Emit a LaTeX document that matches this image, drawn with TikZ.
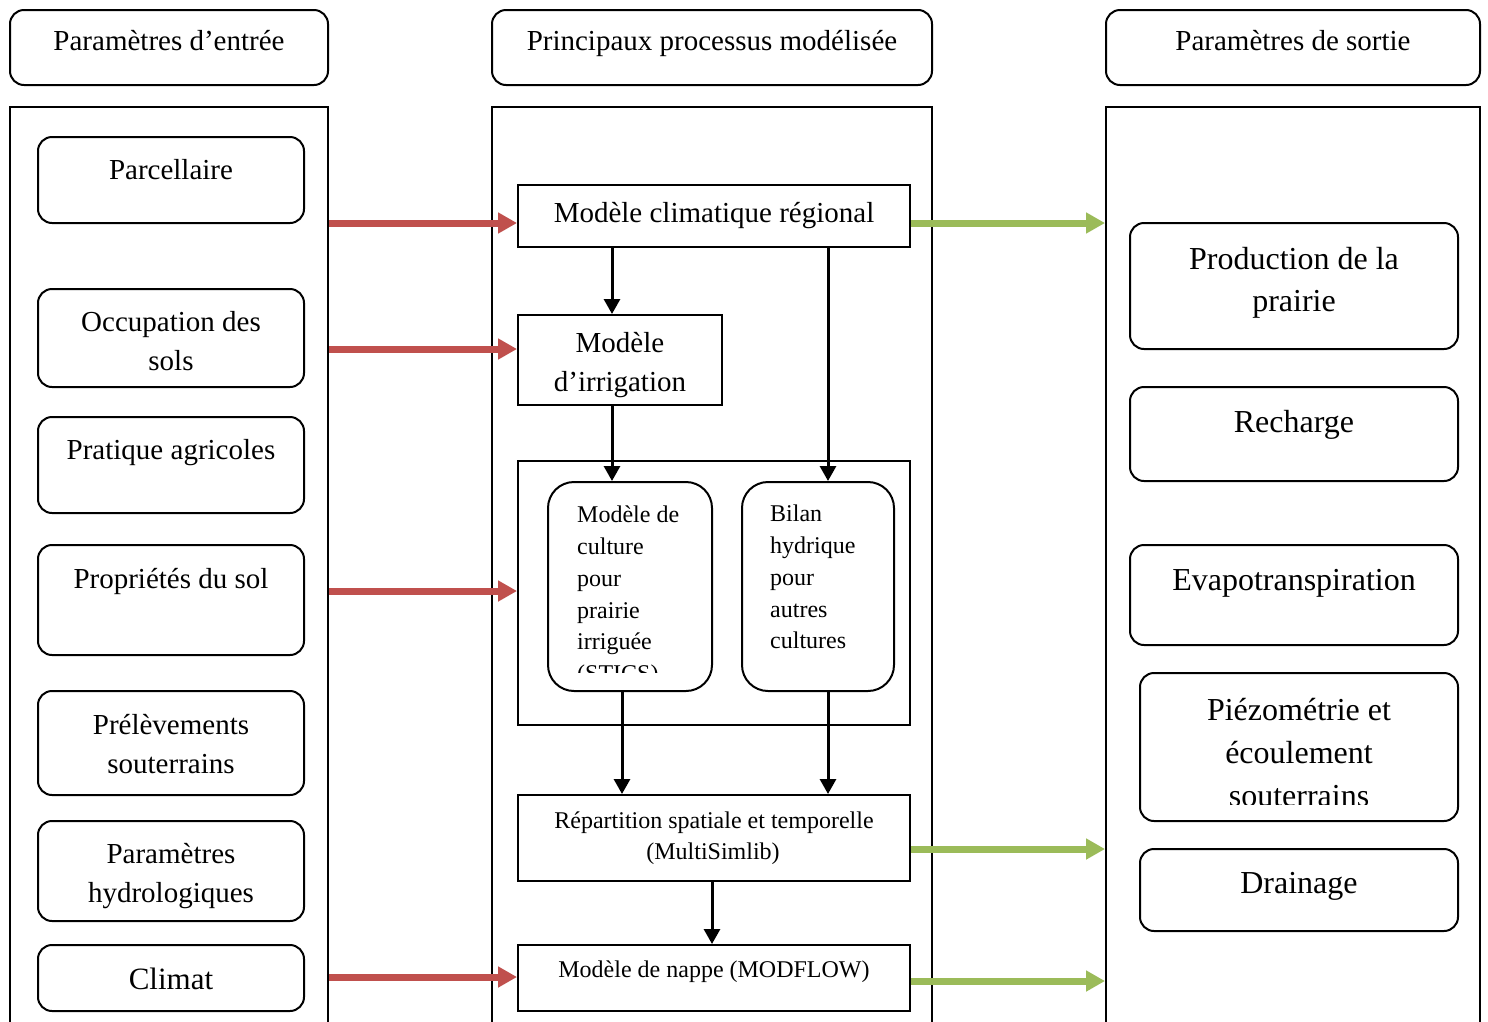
\documentclass[tikz,border=0pt]{standalone}
\usepackage{fontspec}
\setmainfont{Liberation Serif}
\usetikzlibrary{arrows.meta,fit}
\definecolor{redarr}{HTML}{C0504D}
\definecolor{greenarr}{HTML}{9BBB59}
\begin{document}
\begin{tikzpicture}[x=1pt,y=-1pt,
  rbox/.style={draw, line width=2pt, rounded corners=14pt, inner sep=0pt},
  bigr/.style={draw, line width=2pt, rounded corners=26pt, inner sep=0pt},
  sqbox/.style={draw, line width=2pt, inner sep=0pt},
  txt/.style={anchor=base, inner sep=0pt, font=\fontsize{29}{35}\selectfont},
  clt/.style={anchor=base, inner sep=0pt, font=\fontsize{31}{37}\selectfont},
  bigt/.style={anchor=base, inner sep=0pt, font=\fontsize{32}{38}\selectfont},
  smt/.style={anchor=base, inner sep=0pt, font=\fontsize{24}{28}\selectfont},
  smtl/.style={anchor=base west, inner sep=0pt, font=\fontsize{24}{28}\selectfont},
  redar/.style={draw=redarr, line width=7pt, -{Triangle[length=19pt,width=20pt]}},
  grnar/.style={draw=greenarr, line width=7pt, -{Triangle[length=19pt,width=20pt]}},
  blkar/.style={draw=black, line width=3pt, -{Triangle[length=15pt,width=16pt]}}]
\useasboundingbox (0,0) rectangle (1488,1021);
\fill[white] (0,0) rectangle (1488,1021);

% headers
\node[rbox, fit={(10,10) (328,85)}] (hL) {};
\node[rbox, fit={(492,10) (932,85)}] (hM) {};
\node[rbox, fit={(1106,10) (1480,85)}] (hR) {};
\node[txt] (thL) at (169,50) {Paramètres d’entrée};
\node[txt] (thM) at (712,50) {Principaux processus modélisée};
\node[txt] (thR) at (1293,50) {Paramètres de sortie};

% columns
\node[sqbox, fit={(10,107) (328,1050)}] (colL) {};
\node[sqbox, fit={(492,107) (932,1050)}] (colM) {};
\node[sqbox, fit={(1106,107) (1480,1050)}] (colR) {};

% left inputs
\node[rbox, fit={(38,137) (304,223)}] (parc) {};
\node[txt] (tparc) at (171,179) {Parcellaire};
\node[rbox, fit={(38,289) (304,387)}] (occ) {};
\node[txt] (tocc1) at (171,331) {Occupation des};
\node[txt] (tocc2) at (171,370) {sols};
\node[rbox, fit={(38,417) (304,513)}] (prat) {};
\node[txt] (tprat) at (171,459) {Pratique agricoles};
\node[rbox, fit={(38,545) (304,655)}] (prop) {};
\node[txt] (tprop) at (171,588) {Propriétés du sol};
\node[rbox, fit={(38,691) (304,795)}] (prel) {};
\node[txt] (tprel1) at (171,734) {Prélèvements};
\node[txt] (tprel2) at (171,773) {souterrains};
\node[rbox, fit={(38,821) (304,921)}] (para) {};
\node[txt] (tpara1) at (171,863) {Paramètres};
\node[txt] (tpara2) at (171,902) {hydrologiques};
\node[rbox, fit={(38,945) (304,1011)}] (clim) {};
\node[clt] (tclim) at (171,989) {Climat};

% middle processes
\node[sqbox, fit={(518,185) (910,247)}] (mcr) {};
\node[txt] (tmcr) at (714,222) {Modèle climatique régional};
\node[sqbox, fit={(518,315) (722,405)}] (irr) {};
\node[txt] (tirr1) at (620,352) {Modèle};
\node[txt] (tirr2) at (620,391) {d’irrigation};
\node[sqbox, fit={(518,461) (910,725)}] (grp) {};
\node[bigr, fit={(548,482) (712,691)}] (stics) {};
\begin{scope}
\clip (548,482) rectangle (712,672);
\node[smtl] (ts1) at (577,522) {Modèle de};
\node[smtl] (ts2) at (577,554) {culture};
\node[smtl] (ts3) at (577,586) {pour};
\node[smtl] (ts4) at (577,618) {prairie};
\node[smtl] (ts5) at (577,649) {irriguée};
\node[smtl] (ts6) at (577,681) {(STICS)};
\end{scope}
\node[bigr, fit={(742,482) (894,691)}] (bilan) {};
\node[smtl] (tb1) at (770,521) {Bilan};
\node[smtl] (tb2) at (770,553) {hydrique};
\node[smtl] (tb3) at (770,585) {pour};
\node[smtl] (tb4) at (770,617) {autres};
\node[smtl] (tb5) at (770,648) {cultures};
\node[sqbox, fit={(518,795) (910,881)}] (rep) {};
\node[smt] (trep1) at (714,828) {Répartition spatiale et temporelle};
\node[smt] (trep2) at (713,859) {(MultiSimlib)};
\node[sqbox, fit={(518,945) (910,1011)}] (nap) {};
\node[smt] (tnap) at (714,977) {Modèle de nappe (MODFLOW)};

% right outputs
\node[rbox, fit={(1130,223) (1458,349)}] (prod) {};
\node[bigt] (tprod1) at (1294,269) {Production de la};
\node[bigt] (tprod2) at (1294,311) {prairie};
\node[rbox, fit={(1130,387) (1458,481)}] (rech) {};
\node[bigt] (trech) at (1294,432) {Recharge};
\node[rbox, fit={(1130,545) (1458,645)}] (evap) {};
\node[bigt] (tevap) at (1294,590) {Evapotranspiration};
\node[rbox, fit={(1140,673) (1458,821)}] (piez) {};
\begin{scope}
\clip (1140,673) rectangle (1458,804);
\node[bigt] (tpz1) at (1299,720) {Piézométrie et};
\node[bigt] (tpz2) at (1299,763) {écoulement};
\node[bigt] (tpz3) at (1299,806) {souterrains};
\end{scope}
\node[rbox, fit={(1140,849) (1458,931)}] (drain) {};
\node[bigt] (tdrain) at (1299,893) {Drainage};

% black arrows
\draw[blkar] (mcr.south -| 612,0) -- (irr.north -| 612,0);
\draw[blkar] (mcr.south -| 828,0) -- (bilan.north -| 828,0);
\draw[blkar] (irr.south -| 612,0) -- (stics.north -| 612,0);
\draw[blkar] (stics.south -| 622,0) -- (rep.north -| 622,0);
\draw[blkar] (bilan.south -| 828,0) -- (rep.north -| 828,0);
\draw[blkar] (rep.south -| 712,0) -- (nap.north -| 712,0);

% red arrows
\draw[redar] (colL.east |- 0,223) -- (mcr.west |- 0,223);
\draw[redar] (colL.east |- 0,349) -- (irr.west |- 0,349);
\draw[redar] (colL.east |- 0,591) -- (grp.west |- 0,591);
\draw[redar] (colL.east |- 0,977) -- (nap.west |- 0,977);

% green arrows
\draw[grnar] (mcr.east |- 0,223) -- (colR.west |- 0,223);
\draw[grnar] (rep.east |- 0,849) -- (colR.west |- 0,849);
\draw[grnar] (nap.east |- 0,981) -- (colR.west |- 0,981);
\end{tikzpicture}
\end{document}
